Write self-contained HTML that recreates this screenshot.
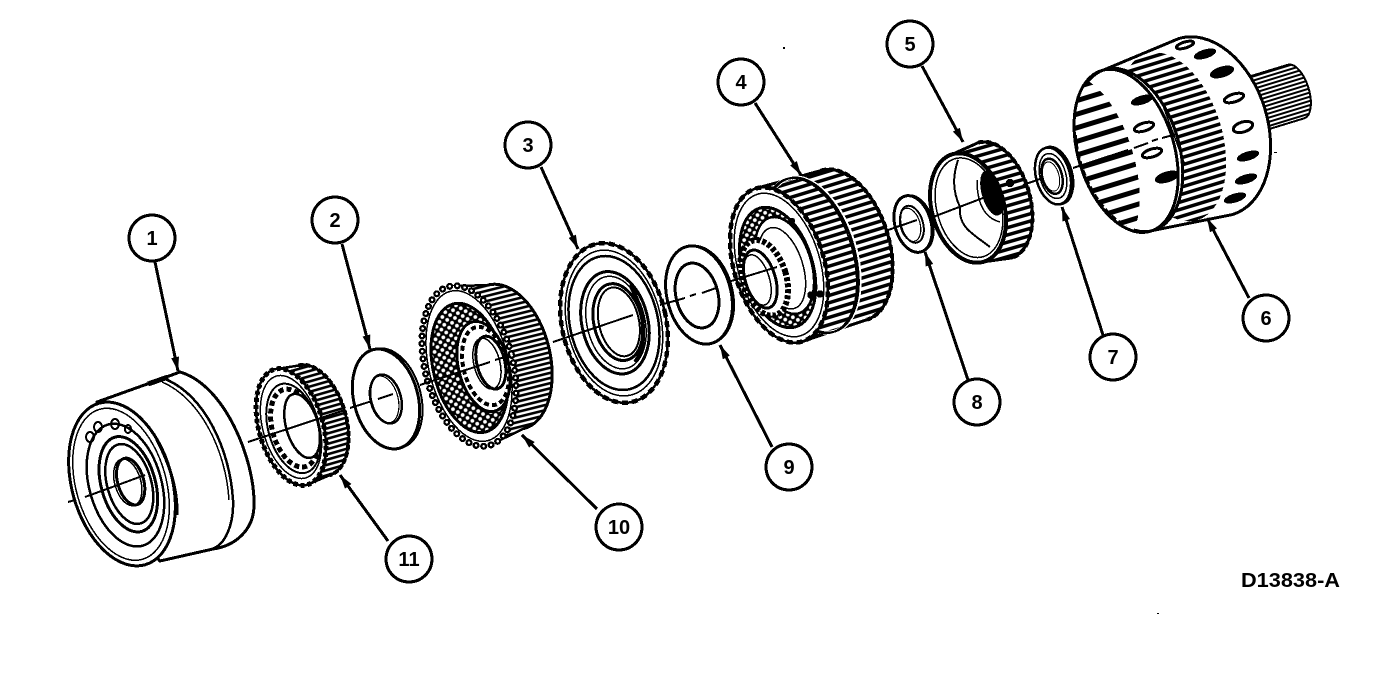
<!DOCTYPE html>
<html><head><meta charset="utf-8"><style>
html,body{margin:0;padding:0;background:#fff;width:1392px;height:674px;overflow:hidden}
svg{display:block}
text{font-family:"Liberation Sans",sans-serif;font-weight:bold;fill:#000;text-anchor:middle}
</style></head><body>
<svg width="1392" height="674" viewBox="0 0 1392 674" xmlns="http://www.w3.org/2000/svg">
<defs>
<pattern id="st" width="6" height="5" patternUnits="userSpaceOnUse"><rect width="6" height="5" fill="#fff"/><rect width="6" height="2.6" fill="#000"/></pattern>
<pattern id="st2" width="6" height="13" patternUnits="userSpaceOnUse"><rect width="6" height="13" fill="#fff"/><rect width="6" height="5" fill="#000"/></pattern>
<pattern id="st3" width="6" height="7" patternUnits="userSpaceOnUse"><rect width="6" height="7" fill="#fff"/><rect width="6" height="3.5" fill="#000"/></pattern>
<pattern id="st4" width="6" height="4" patternUnits="userSpaceOnUse"><rect width="6" height="4" fill="#fff"/><rect width="6" height="2" fill="#000"/></pattern>
<pattern id="mesh" width="8" height="8" patternUnits="userSpaceOnUse"><rect width="8" height="8" fill="#000"/><circle cx="2" cy="2" r="1.9" fill="#fff"/><circle cx="6" cy="6" r="1.9" fill="#fff"/></pattern>
<marker id="ah" viewBox="0 0 14 8" refX="14" refY="4" markerWidth="14" markerHeight="8" markerUnits="userSpaceOnUse" orient="auto"><path d="M0,0 L14,4 L0,8 Z" fill="#000"/></marker>
<clipPath id="c6"><ellipse cx="-3" rx="48" ry="84"/></clipPath>
</defs>
<rect width="1392" height="674" fill="#fff"/>

<g stroke="#000" fill="none" stroke-width="2.5" shape-rendering="crispEdges">

<!-- Part 1 -->
<path d="M97,402 L150,383 L180,372 C225,385 255,460 254,505 C254,530 235,546 213,549 L160,561 L122,520 Z" fill="#fff" stroke-width="3"/>
<path d="M165,379 C205,395 230,450 233,500 C234,525 225,545 212,549" stroke-width="2.5"/>
<path d="M162,382 C200,398 226,450 229,500" stroke-width="1.5"/>
<path d="M148,384 L168,377" stroke-width="5"/>
<g transform="translate(122,484) rotate(-16)">
 <ellipse rx="50" ry="84" fill="#fff" stroke-width="3"/>
 <ellipse cx="-1" cy="0" rx="45" ry="78" stroke-width="1.5"/>
 <ellipse cx="3" cy="2" rx="36" ry="63" stroke-width="2.5"/>
 <ellipse cx="6" cy="2" rx="27" ry="49" stroke-width="3"/>
 <ellipse cx="7" cy="2" rx="22" ry="41" stroke-width="2.5"/>
 <ellipse cx="9" cy="0" rx="13" ry="24" stroke-width="3"/>
 <ellipse cx="6" cy="0" rx="13" ry="24" stroke-width="1.5"/>
</g>
<ellipse cx="90" cy="437" rx="4" ry="5" stroke-width="2"/>
<ellipse cx="98" cy="427" rx="4" ry="5" stroke-width="2"/>
<ellipse cx="115" cy="424" rx="4" ry="5" stroke-width="2"/>
<ellipse cx="128" cy="429" rx="3" ry="4" stroke-width="2"/>
<path d="M157,440 C170,465 178,490 177,515" stroke-width="3"/>

<!-- Part 11 -->
<g transform="translate(291,427) rotate(-16)">
 <path d="M0,-60 L24,-57 A32,57 0 0 1 24,57 L0,60 Z" fill="url(#st)" stroke-width="2.5"/>
 <path d="M24,-57 A32,57 0 0 1 24,57" stroke-width="4" stroke-dasharray="5 2"/>
 <ellipse rx="32" ry="60" fill="#fff" stroke-width="2.5"/>
 <ellipse rx="32" ry="60" stroke-width="5" stroke-dasharray="4 3"/>
 <ellipse rx="28" ry="53" stroke-width="1.5"/>
 <ellipse cx="2" cy="2" rx="25" ry="46" stroke-width="2"/>
 <ellipse cx="3" cy="2" rx="22" ry="40" stroke-width="5" stroke-dasharray="5 3"/>
 <ellipse cx="11" cy="2" rx="16" ry="33" fill="#fff" stroke-width="2.5"/>
</g>

<!-- Part 2 -->
<g transform="translate(386,399) rotate(-15)">
 <ellipse cx="3" rx="32" ry="51" fill="#fff" stroke-width="2"/>
 <ellipse rx="32" ry="51" fill="#fff" stroke-width="3"/>
 <ellipse rx="15" ry="25" stroke-width="2.5"/>
 <ellipse cx="-2" rx="14" ry="24" stroke-width="1.2"/>
</g>

<!-- Part 10 -->
<g transform="translate(469,366) rotate(-14)">
 <path d="M0,-82 L38,-74 A44,74 0 0 1 38,74 L0,82 Z" fill="url(#st)" stroke-width="2.5"/>
 <path d="M38,-74 A44,74 0 0 1 38,74" fill="none" stroke-width="3"/>
 <ellipse rx="44" ry="82" fill="#fff" stroke-width="7" stroke-dasharray="0.1 7.5" stroke-linecap="round"/>
 <ellipse rx="44" ry="82" stroke="#fff" stroke-width="2.4" stroke-dasharray="0.1 7.5" stroke-linecap="round"/>
 <ellipse rx="40" ry="77" fill="#fff" stroke-width="1.5"/>
 <ellipse cx="0" cy="2" rx="36" ry="66" fill="url(#mesh)" stroke-width="3"/>
 <ellipse cx="14" cy="4" rx="25" ry="46" fill="#fff" stroke-width="3"/>
 <ellipse cx="16" cy="4" rx="22" ry="40" stroke-width="4" stroke-dasharray="5 3"/>
 <ellipse cx="22" cy="2" rx="14" ry="27" fill="#fff" stroke-width="3"/>
 <ellipse cx="18" cy="2" rx="13" ry="26" stroke-width="1.5"/>
</g>

<!-- Part 3 -->
<g transform="translate(614,323) rotate(-13)">
 <ellipse rx="52" ry="81" fill="#fff" stroke-width="2.5"/>
 <ellipse rx="52" ry="81" stroke-width="4.5" stroke-dasharray="6 4"/>
 <ellipse rx="47" ry="74" stroke-width="1.5"/>
 <ellipse rx="44" ry="68" stroke-width="2.5"/>
 <ellipse cx="1" rx="33" ry="52" stroke-width="3"/>
 <ellipse cx="2" rx="29" ry="47" stroke-width="1.5"/>
 <ellipse cx="4" rx="24" ry="39" stroke-width="3"/>
 <ellipse cx="5" rx="20" ry="35" fill="#fff" stroke-width="2"/>
</g>
<path d="M630,285 C645,310 648,345 635,362" stroke-width="4"/>

<!-- Part 9 -->
<g transform="translate(699,295) rotate(-14)">
 <ellipse cx="2" rx="32" ry="50" fill="#fff" stroke-width="1.5"/>
 <ellipse rx="32" ry="50" fill="#fff" stroke-width="3"/>
 <ellipse cx="-2" rx="21" ry="33" stroke-width="3"/>
</g>

<!-- Part 4 -->
<g transform="translate(779,265) rotate(-17)">
 <path d="M0,-80 L68,-78 A45,78 0 0 1 68,78 L0,80 Z" fill="url(#st3)" stroke-width="3"/>
 <path d="M68,-78 A45,78 0 0 1 68,78" stroke-width="4" stroke-dasharray="5 3"/>
 <ellipse cx="34" rx="44" ry="80" stroke="#fff" stroke-width="4"/>
 <ellipse cx="34" rx="43" ry="80" stroke-width="2"/>
 <ellipse cx="32" rx="43" ry="80" stroke-width="2"/>
 <ellipse rx="45" ry="80" fill="#fff" stroke-width="2.5"/>
 <ellipse rx="45" ry="80" stroke-width="4.5" stroke-dasharray="6 4"/>
 <ellipse rx="41" ry="74" stroke-width="1.5"/>
 <ellipse cx="-2" cy="2" rx="35" ry="62" fill="url(#mesh)" stroke-width="3"/>
 <ellipse cx="5" cy="2" rx="27" ry="50" fill="#fff" stroke-width="2.5"/>
 <ellipse cx="2" cy="4" rx="21" ry="42" stroke-width="1.5"/>
 <ellipse cx="-18" cy="8" rx="22" ry="39" fill="#fff" stroke-width="6" stroke-dasharray="4 2"/>
 <ellipse cx="-22" cy="8" rx="15" ry="30" fill="#fff" stroke-width="3"/>
 <ellipse cx="-25" cy="8" rx="12" ry="26" stroke-width="1.5"/>
</g>
<circle cx="811" cy="295" r="2.5" fill="#000"/><circle cx="820" cy="294" r="2.5" fill="#000"/>
<circle cx="792" cy="221" r="2" fill="#000"/>

<!-- Part 8 -->
<g transform="translate(913,224) rotate(-16)">
 <ellipse cx="2" rx="18" ry="29" fill="#fff" stroke-width="1.5"/>
 <ellipse rx="18" ry="29" fill="#fff" stroke-width="3"/>
 <ellipse cx="-1" rx="11" ry="19" stroke-width="2"/>
 <ellipse cx="-3" rx="10" ry="17" stroke-width="1.2"/>
</g>

<!-- Part 5 -->
<g transform="translate(968,208) rotate(-16)">
 <path d="M0,-56 L28,-60 A35,60 0 0 1 28,60 L0,56 Z" fill="url(#st3)" stroke-width="3"/>
 <path d="M28,-60 A35,60 0 0 1 28,60" stroke-width="4" stroke-dasharray="5 3"/>
 <ellipse rx="36" ry="56" fill="#fff" stroke-width="4"/>
 <ellipse cx="1" rx="32" ry="51" stroke-width="1.5"/>
</g>
<path d="M958,160 C953,175 952,190 960,207 C958,228 975,235 990,247" stroke-width="2"/>
<ellipse cx="992" cy="193" rx="9" ry="22" fill="#000" transform="rotate(-16 992 193)"/>
<path d="M977,180 C977,205 985,218 1000,222" stroke-width="1.5"/>
<circle cx="1010" cy="183" r="3" fill="#000"/>

<!-- Part 7 -->
<g transform="translate(1053,176) rotate(-15)">
 <ellipse cx="2" rx="17" ry="29" fill="#fff" stroke-width="3"/>
 <ellipse rx="17" ry="29" fill="#fff" stroke-width="2.5"/>
 <ellipse rx="13" ry="23" stroke-width="1.5"/>
 <ellipse cx="-1" rx="10" ry="18" stroke-width="2.5"/>
 <ellipse cx="-2" rx="8" ry="15" stroke-width="1"/>
</g>

<!-- Part 6 shaft -->
<g transform="translate(1252,105) rotate(-17)">
 <path d="M-8,-28 L46,-28 A13,28 0 0 1 46,28 L-8,28 Z" fill="url(#st4)" stroke-width="2"/>
</g>

<!-- Part 6 drum -->
<g transform="translate(1129,150) rotate(-17)">
 <path d="M0,-84 L80,-92 A62,92 0 0 1 80,92 L0,84 Z" fill="#fff" stroke-width="3"/>
 <ellipse cx="45" rx="50" ry="87" fill="url(#st3)" stroke="none"/>
 <ellipse rx="50" ry="84" fill="#fff" stroke-width="3"/>
 <g clip-path="url(#c6)"><ellipse cx="-35" rx="38" ry="86" fill="url(#st2)" stroke="none"/></g>
 <ellipse cx="-3" rx="48" ry="84" stroke-width="3"/>
 <path d="M-47,-30 A50,84 0 0 0 -25,72" stroke-width="3" stroke-dasharray="6 3"/>
</g>
<path d="M1162,103 L1185,165" stroke-width="1.5"/>
<g fill="#000" stroke="#000" stroke-width="1">
 <ellipse transform="translate(1205,54) rotate(-17)" rx="11" ry="4"/>
 <ellipse transform="translate(1222,72) rotate(-17)" rx="12" ry="5"/>
 <ellipse transform="translate(1248,156) rotate(-17)" rx="11" ry="4"/>
 <ellipse transform="translate(1246,179) rotate(-17)" rx="11" ry="4"/>
 <ellipse transform="translate(1235,198) rotate(-17)" rx="11" ry="4"/>
 <ellipse transform="translate(1167,177) rotate(-17)" rx="12" ry="5"/>
 <ellipse transform="translate(1142,100) rotate(-17)" rx="11" ry="4"/>
</g>
<g fill="#fff" stroke="#000" stroke-width="3">
 <ellipse transform="translate(1185,45) rotate(-17)" rx="9" ry="3"/>
 <ellipse transform="translate(1234,98) rotate(-17)" rx="10" ry="4"/>
 <ellipse transform="translate(1243,127) rotate(-17)" rx="10" ry="5"/>
 <ellipse transform="translate(1144,127) rotate(-17)" rx="10" ry="4"/>
 <ellipse transform="translate(1152,153) rotate(-17)" rx="10" ry="4"/>
</g>

<!-- Centre line -->
<g stroke-width="2">
 <path d="M68,502 L75,500 M85,497 L145,475" />
 <path d="M248,442 L345,410 M350,408 L372,401 M378,399 L393,394"/>
 <path d="M420,385 L490,362 M495,360 L505,357"/>
 <path d="M553,342 L633,315"/>
 <path d="M660,305 L685,298 M690,296 L696,294 M702,293 L716,288"/>
 <path d="M728,282 L777,267"/>
 <path d="M888,230 L917,220"/>
 <path d="M933,217 L983,198"/>
 <path d="M1023,185 L1040,179"/>
 <path d="M1073,168 L1128,150 M1134,148 L1148,143 M1152,141 L1158,139 M1162,138 L1177,134"/>
</g>

<!-- Arrows -->
<g stroke-width="3">
 <line x1="155" y1="262" x2="178" y2="371" marker-end="url(#ah)"/>
 <line x1="342" y1="244" x2="370" y2="349" marker-end="url(#ah)"/>
 <line x1="541" y1="167" x2="578" y2="249" marker-end="url(#ah)"/>
 <line x1="755" y1="103" x2="801" y2="175" marker-end="url(#ah)"/>
 <line x1="922" y1="66" x2="963" y2="142" marker-end="url(#ah)"/>
 <line x1="1249" y1="298" x2="1207" y2="218" marker-end="url(#ah)"/>
 <line x1="1103" y1="335" x2="1062" y2="207" marker-end="url(#ah)"/>
 <line x1="968" y1="380" x2="925" y2="252" marker-end="url(#ah)"/>
 <line x1="772" y1="447" x2="720" y2="345" marker-end="url(#ah)"/>
 <line x1="597" y1="509" x2="522" y2="435" marker-end="url(#ah)"/>
 <line x1="388" y1="541" x2="340" y2="475" marker-end="url(#ah)"/>
</g>

<!-- Label circles -->
<g fill="#fff" stroke-width="3">
 <circle cx="152" cy="238" r="23"/>
 <circle cx="335" cy="220" r="23"/>
 <circle cx="528" cy="145" r="23"/>
 <circle cx="741" cy="82" r="23"/>
 <circle cx="910" cy="44" r="23"/>
 <circle cx="1266" cy="318" r="23"/>
 <circle cx="1113" cy="357" r="23"/>
 <circle cx="977" cy="402" r="23"/>
 <circle cx="789" cy="467" r="23"/>
 <circle cx="619" cy="527" r="23"/>
 <circle cx="409" cy="559" r="23"/>
</g>
</g>

<g font-size="20">
 <text x="152" y="245">1</text>
 <text x="335" y="227">2</text>
 <text x="528" y="152">3</text>
 <text x="741" y="89">4</text>
 <text x="910" y="51">5</text>
 <text x="1266" y="325">6</text>
 <text x="1113" y="364">7</text>
 <text x="977" y="409">8</text>
 <text x="789" y="474">9</text>
 <text x="619" y="534">10</text>
 <text x="409" y="566">11</text>
</g>
<text x="1290.5" y="587" font-size="20" textLength="99" lengthAdjust="spacingAndGlyphs">D13838-A</text>

<g fill="#000">
 <rect x="783" y="47" width="2" height="2"/>
 <rect x="1157" y="613" width="2" height="1"/>
 <rect x="1274" y="152" width="3" height="1"/>
</g>
</svg>
</body></html>
